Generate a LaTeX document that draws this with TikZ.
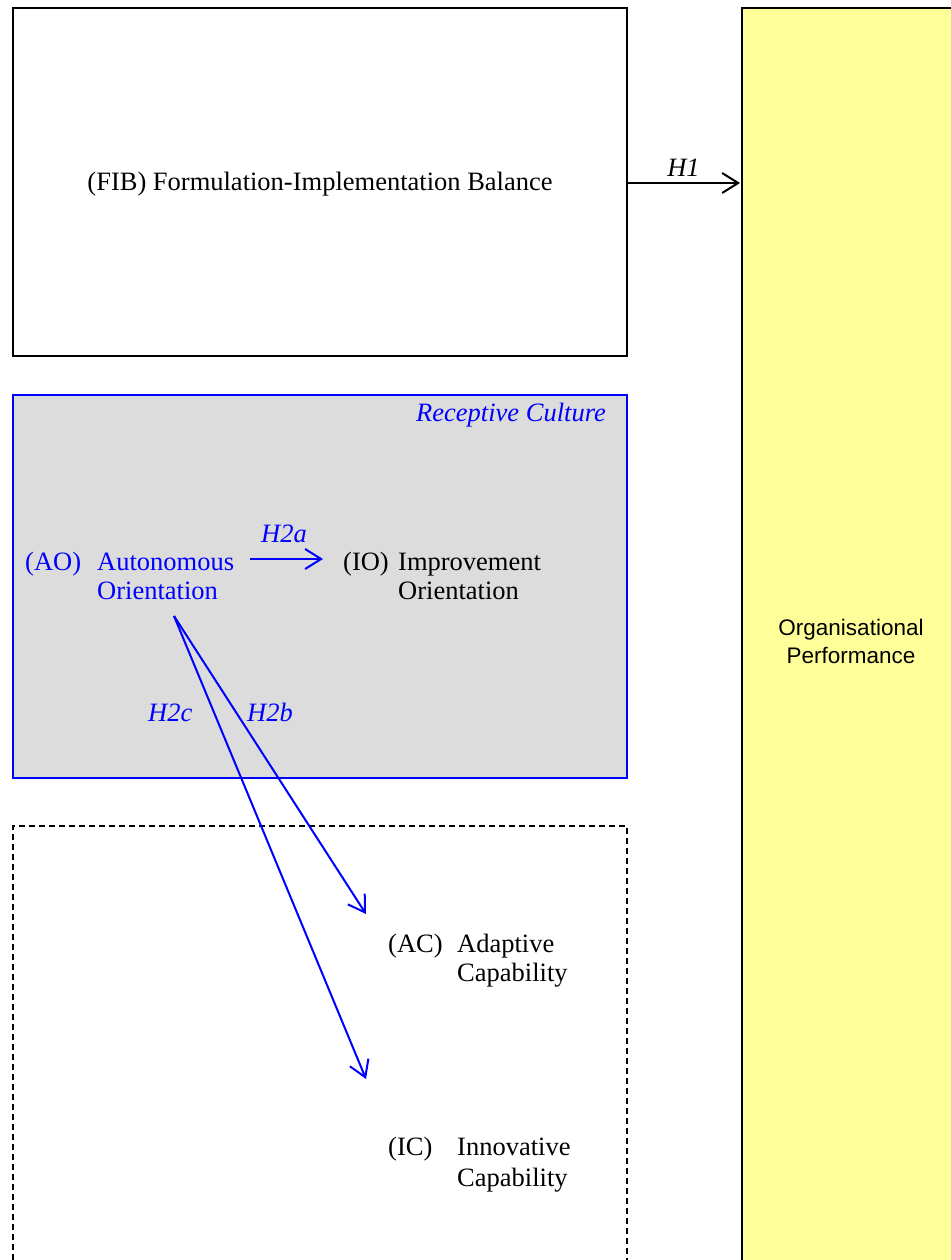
\documentclass[tikz,border=0pt]{standalone}
\usepackage{fontspec}
\setmainfont{Liberation Serif}
\newfontfamily\orgsans{Liberation Sans}
\usetikzlibrary{arrows.meta}
\definecolor{rcblue}{RGB}{0,0,255}
\definecolor{rcgray}{RGB}{220,220,220}
\definecolor{opyellow}{RGB}{255,255,153}
\begin{document}
\begin{tikzpicture}[x=1pt,y=-1pt,
  frame/.style={draw=black,line width=1.8pt},
  lbl/.style={inner sep=0pt,anchor=base west,font=\fontsize{26.5}{30}\selectfont},
  hyp/.style={inner sep=0pt,anchor=base west,font=\fontsize{26.5}{30}\selectfont\itshape},
  link/.style={line width=2pt,-{Straight Barb[length=16pt,width=20pt,line width=2pt]}},
  bluelink/.style={link,draw=rcblue}]
\useasboundingbox (0,0) rectangle (950,1260);
\fill[white] (0,0) rectangle (950,1260);

% outcome column
\draw[frame,fill=opyellow] (742,8) rectangle (960,1270);
\node[align=center,inner sep=0pt,font=\orgsans\fontsize{22.5}{28}\selectfont] (op) at (851,641)
  {Organisational\\Performance};

% strategy balance
\draw[frame] (13,8) rectangle (627,356);
\node[inner sep=0pt,font=\fontsize{26.5}{30}\selectfont] (fib) at (320,184)
  {(FIB) Formulation-Implementation Balance};
\coordinate (fibR) at (627,183);
\coordinate (opL) at (740,183);
\draw[link] (fibR) -- (opL) node[midway,above=5pt,font=\fontsize{26.5}{30}\selectfont\itshape,inner sep=0pt] {H1};

% receptive culture
\draw[draw=rcblue,line width=1.8pt,fill=rcgray] (13,395) rectangle (627,778);
\node[hyp,text=rcblue,anchor=base east] (rc) at (606,421) {Receptive Culture};

\node[lbl,text=rcblue] (aoTag) at (25,570) {(AO)};
\node[lbl,text=rcblue] (ao1) at (97,570) {Autonomous};
\node[lbl,text=rcblue] (ao2) at (97,599) {Orientation};

\node[lbl] (ioTag) at (343,570) {(IO)};
\node[lbl] (io1) at (398,570) {Improvement};
\node[lbl] (io2) at (398,599) {Orientation};

% capabilities
\draw[line width=1.8pt,dash pattern=on 6pt off 4pt] (13,1270) -- (13,826) -- (627,826) -- (627,1270);

\node[lbl] (acTag) at (388,952) {(AC)};
\node[lbl] (ac1) at (457,952) {Adaptive};
\node[lbl] (ac2) at (457,981) {Capability};

\node[lbl] (icTag) at (388,1155) {(IC)};
\node[lbl] (ic1) at (457,1155) {Innovative};
\node[lbl] (ic2) at (457,1186) {Capability};

% hypothesised paths
\coordinate (aoEnd) at (250,559);
\coordinate (ioStart) at (323,559);
\draw[bluelink] (aoEnd) -- (ioStart);
\node[hyp,text=rcblue] (h2a) at (261,542) {H2a};

\coordinate (aoBase) at (174,616);
\coordinate (acIn) at (366,914);
\coordinate (icIn) at (366,1079);
\draw[bluelink] (aoBase) -- (acIn);
\draw[bluelink] (aoBase) -- (icIn);
\node[hyp,text=rcblue] (h2b) at (247,721) {H2b};
\node[hyp,text=rcblue] (h2c) at (148,721) {H2c};
\end{tikzpicture}
\end{document}
